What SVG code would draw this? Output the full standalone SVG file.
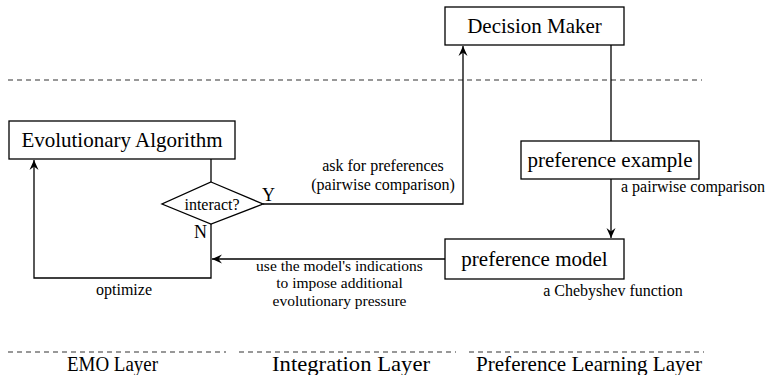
<svg xmlns="http://www.w3.org/2000/svg" width="771" height="375" viewBox="0 0 771 375">
<style>
.box{fill:#fff;stroke:#000;stroke-width:1.3}
text{font-family:'Liberation Serif','Times New Roman',serif;fill:#000}
.big{font-size:21px;text-anchor:middle}
.lbl{font-size:16px}
.sm{font-size:15.5px;text-anchor:middle}
.mid{text-anchor:middle}
.yn{font-size:18px}
.layer{font-size:22px;text-anchor:middle}
.dash{stroke:#333;stroke-width:1.2;stroke-dasharray:5 4;fill:none}
.c{fill:none;stroke:#000;stroke-width:1.3}
</style>
<defs>
<marker id="arr" viewBox="-11 -5 12 10" refX="0" refY="0" markerWidth="12" markerHeight="10" markerUnits="userSpaceOnUse" orient="auto">
<path d="M0,0 L-10,-4.5 L-6.5,0 L-10,4.5 Z" fill="#000"/>
</marker>
</defs>
<g id="separators">
<line class="dash" x1="8" y1="80" x2="702" y2="80"/>
<line class="dash" x1="8" y1="352" x2="226" y2="352"/>
<line class="dash" x1="239" y1="352" x2="456" y2="352"/>
<line class="dash" x1="469" y1="352" x2="704" y2="352"/>
</g>
<g id="connectors">
<path class="c" d="M211,159 L211,182"/>
<path class="c" d="M211,224 L211,278 L34,278 L34,160" marker-end="url(#arr)"/>
<path class="c" d="M263,204 L463,204 L463,46" marker-end="url(#arr)"/>
<path class="c" d="M611,45 L611,141"/>
<path class="c" d="M611,179 L611,238" marker-end="url(#arr)"/>
<path class="c" d="M445,259 L212,259" marker-end="url(#arr)"/>
</g>
<g id="ea" font-family="Liberation Serif, Times New Roman, serif">
<rect class="box" x="9" y="121" width="226" height="38"/>
<text class="big" x="122" y="147" font-family="Liberation Serif, serif">Evolutionary Algorithm</text>
</g>
<g id="interact" font-family="Liberation Serif, Times New Roman, serif">
<polygon class="box" points="211,182 263,204 211,224 162,204"/>
<text class="lbl mid" x="212" y="210" font-family="Liberation Serif, serif">interact?</text>
</g>
<g id="dm" font-family="Liberation Serif, Times New Roman, serif">
<rect class="box" x="445" y="7" width="179" height="38"/>
<text class="big" x="534.5" y="33" font-family="Liberation Serif, serif">Decision Maker</text>
</g>
<g id="pe" font-family="Liberation Serif, Times New Roman, serif">
<rect class="box" x="521" y="141" width="178" height="38"/>
<text class="big" x="610" y="167" font-family="Liberation Serif, serif">preference example</text>
</g>
<g id="pm" font-family="Liberation Serif, Times New Roman, serif">
<rect class="box" x="445" y="239" width="179" height="40"/>
<text class="big" x="534.5" y="266" font-family="Liberation Serif, serif">preference model</text>
</g>
<g id="labels" font-family="Liberation Serif, Times New Roman, serif">
<text class="yn" x="262" y="201" font-family="Liberation Serif, serif">Y</text>
<text class="yn" x="194" y="238" font-family="Liberation Serif, serif">N</text>
<text class="lbl mid" x="383" y="171" font-family="Liberation Serif, serif">ask for preferences</text>
<text class="lbl mid" x="383" y="190" font-family="Liberation Serif, serif">(pairwise comparison)</text>
<text class="lbl" x="621" y="192" font-family="Liberation Serif, serif">a pairwise comparison</text>
<text class="lbl mid" x="613" y="296" font-family="Liberation Serif, serif">a Chebyshev function</text>
<text class="lbl mid" x="124" y="295" font-family="Liberation Serif, serif">optimize</text>
<text class="sm" x="339.5" y="271" font-family="Liberation Serif, serif">use the model's indications</text>
<text class="sm" x="339.5" y="288.3" font-family="Liberation Serif, serif">to impose additional</text>
<text class="sm" x="339.5" y="305.6" font-family="Liberation Serif, serif">evolutionary pressure</text>
<text class="layer" x="112.5" y="371" textLength="91" lengthAdjust="spacingAndGlyphs" font-family="Liberation Serif, serif">EMO Layer</text>
<text class="layer" x="351" y="371" textLength="158" lengthAdjust="spacingAndGlyphs" font-family="Liberation Serif, serif">Integration Layer</text>
<text class="layer" x="589" y="371" textLength="226" lengthAdjust="spacingAndGlyphs" font-family="Liberation Serif, serif">Preference Learning Layer</text>
</g>
</svg>
